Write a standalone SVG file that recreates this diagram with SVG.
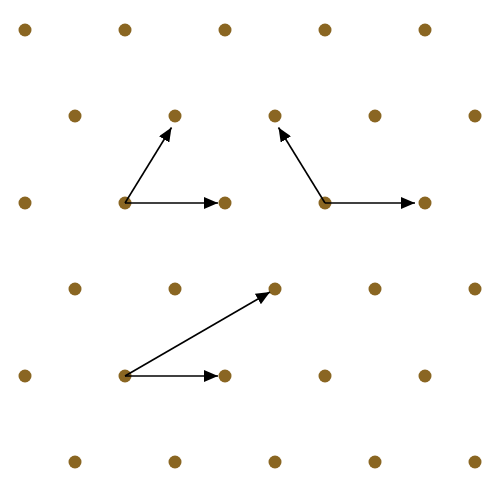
<svg xmlns="http://www.w3.org/2000/svg" width="501" height="496" viewBox="0 0 501 496">
<defs>
<style>
.dot{fill:#8a6622}
.con line{stroke:#000;stroke-width:1.6;marker-end:url(#ah)}
</style>
<marker id="ah" viewBox="0 0 10 10" refX="10" refY="5" markerWidth="14" markerHeight="12" markerUnits="userSpaceOnUse" orient="auto" preserveAspectRatio="none">
<path d="M0,0L10,5L0,10z" fill="#000"/>
</marker>
</defs>
<rect width="501" height="496" fill="#fff"/>
<g id="dots">
<g id="r1"><circle class="dot" cx="25" cy="30" r="6.5"/><circle class="dot" cx="125" cy="30" r="6.5"/><circle class="dot" cx="225" cy="30" r="6.5"/><circle class="dot" cx="325" cy="30" r="6.5"/><circle class="dot" cx="425" cy="30" r="6.5"/></g>
<g id="r2"><circle class="dot" cx="75" cy="116" r="6.5"/><circle class="dot" cx="175" cy="116" r="6.5"/><circle class="dot" cx="275" cy="116" r="6.5"/><circle class="dot" cx="375" cy="116" r="6.5"/><circle class="dot" cx="475" cy="116" r="6.5"/></g>
<g id="r3"><circle class="dot" cx="25" cy="203" r="6.5"/><circle class="dot" cx="125" cy="203" r="6.5"/><circle class="dot" cx="225" cy="203" r="6.5"/><circle class="dot" cx="325" cy="203" r="6.5"/><circle class="dot" cx="425" cy="203" r="6.5"/></g>
<g id="r4"><circle class="dot" cx="75" cy="289" r="6.5"/><circle class="dot" cx="175" cy="289" r="6.5"/><circle class="dot" cx="275" cy="289" r="6.5"/><circle class="dot" cx="375" cy="289" r="6.5"/><circle class="dot" cx="475" cy="289" r="6.5"/></g>
<g id="r5"><circle class="dot" cx="25" cy="376" r="6.5"/><circle class="dot" cx="125" cy="376" r="6.5"/><circle class="dot" cx="225" cy="376" r="6.5"/><circle class="dot" cx="325" cy="376" r="6.5"/><circle class="dot" cx="425" cy="376" r="6.5"/></g>
<g id="r6"><circle class="dot" cx="75" cy="462" r="6.5"/><circle class="dot" cx="175" cy="462" r="6.5"/><circle class="dot" cx="275" cy="462" r="6.5"/><circle class="dot" cx="375" cy="462" r="6.5"/><circle class="dot" cx="475" cy="462" r="6.5"/></g>
</g>
<g id="connectors" class="con">
<line x1="125" y1="203" x2="171.5" y2="127.5"/>
<line x1="125" y1="203" x2="218" y2="203"/>
<line x1="325" y1="203" x2="278.5" y2="127.5"/>
<line x1="325" y1="203" x2="415" y2="203"/>
<line x1="125" y1="376" x2="270" y2="292"/>
<line x1="125" y1="376" x2="218" y2="376"/>
</g>
</svg>
